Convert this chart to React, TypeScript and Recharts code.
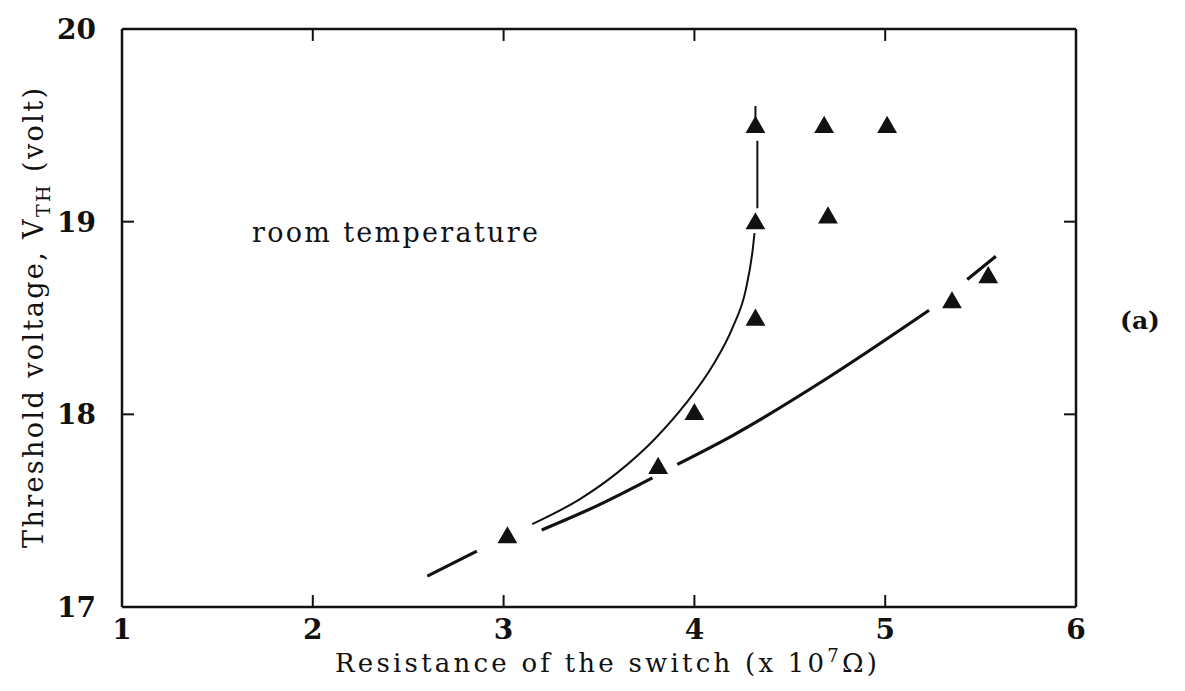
import React from 'react';
import { ComposedChart, XAxis, YAxis, ZAxis, Line, Scatter, ReferenceLine } from 'recharts';

// axis ticks
const xTicks = [1, 2, 3, 4, 5, 6];
const yTicks = [17, 18, 19, 20];

// measured points (triangles), resistance in 1e7 ohm, V_TH in volt
const pointX = [3.02, 3.81, 4.0, 4.32, 4.32, 4.7, 4.32, 4.68, 5.01, 5.35, 5.54];
const pointY = [17.36, 17.72, 18.0, 18.49, 18.99, 19.02, 19.49, 19.49, 19.49, 18.58, 18.71];

// thin curve (bends up to a vertical near 4.33), null = break in the pen
const upperX = [3.15, 3.4, 3.6, 3.8, 3.95, 4.1, 4.2, 4.27, 4.305, 4.315, 4.32, 4.33, 4.33, 4.33, 4.32, 4.32];
const upperY = [17.43, 17.56, 17.7, 17.88, 18.05, 18.26, 18.45, 18.65, 18.85, 18.94, null, 19.07, 19.42, null, 19.53, 19.6];

// thick, nearly straight line, drawn with gaps at the triangles
const lowerX = [2.6, 2.86, 3.0, 3.2, 3.5, 3.78, 3.85, 3.91, 4.2, 4.7, 5.23, 5.35, 5.43, 5.58];
const lowerY = [17.16, 17.29, null, 17.4, 17.53, 17.67, null, 17.74, 17.89, 18.19, 18.54, null, 18.7, 18.82];

const points = pointX.map((x, i) => ({ x, y: pointY[i] }));
const upper = upperX.map((x, i) => ({ x, y: upperY[i] }));
const lower = lowerX.map((x, i) => ({ x, y: lowerY[i] }));

const font = '"DejaVu Serif", "Liberation Serif", serif';
const ink = '#111';
const tickStyle = { fontFamily: font, fontSize: 28, fontWeight: 'bold', fill: ink };

// inward tick marks, in axis units (~12px)
const xMin = 1, xMax = 6, yMin = 17, yMax = 20;
const xTickLen = 0.063;
const yTickLen = 0.062;
const innerX = xTicks.slice(1, -1);
const innerY = yTicks.slice(1, -1);

export default function App() {
  return (
    <div style={{ width: 1177, height: 683, background: '#fff' }}>
      <ComposedChart width={1177} height={683} margin={{ top: 20, right: 108, bottom: 24, left: 54 }}>
        <XAxis
          dataKey="x"
          type="number"
          domain={[xMin, xMax]}
          ticks={xTicks}
          allowDataOverflow
          height={60}
          stroke={ink}
          strokeWidth={2.5}
          tickLine={false}
          tickSize={0}
          tickMargin={12}
          tick={tickStyle}
        />
        <XAxis
          xAxisId="top"
          orientation="top"
          dataKey="x"
          type="number"
          domain={[xMin, xMax]}
          ticks={xTicks}
          height={1}
          stroke={ink}
          strokeWidth={2.5}
          tickLine={false}
          tick={false}
        />
        <YAxis
          dataKey="y"
          type="number"
          domain={[yMin, yMax]}
          ticks={yTicks}
          allowDataOverflow
          width={60}
          stroke={ink}
          strokeWidth={2.5}
          tickLine={false}
          tickSize={0}
          tickMargin={26}
          tick={tickStyle}
        />
        <YAxis
          yAxisId="right"
          orientation="right"
          dataKey="y"
          type="number"
          domain={[yMin, yMax]}
          ticks={yTicks}
          width={1}
          stroke={ink}
          strokeWidth={2.5}
          tickLine={false}
          tick={false}
        />
        <ZAxis range={[170, 170]} />

        {innerX.map((t) => (
          <ReferenceLine key={`b${t}`} segment={[{ x: t, y: yMin }, { x: t, y: yMin + yTickLen }]} stroke={ink} strokeWidth={2} />
        ))}
        {innerX.map((t) => (
          <ReferenceLine key={`t${t}`} segment={[{ x: t, y: yMax }, { x: t, y: yMax - yTickLen }]} stroke={ink} strokeWidth={2} />
        ))}
        {innerY.map((t) => (
          <ReferenceLine key={`l${t}`} segment={[{ x: xMin, y: t }, { x: xMin + xTickLen, y: t }]} stroke={ink} strokeWidth={2} />
        ))}
        {innerY.map((t) => (
          <ReferenceLine key={`r${t}`} segment={[{ x: xMax, y: t }, { x: xMax - xTickLen, y: t }]} stroke={ink} strokeWidth={2} />
        ))}

        <Line
          data={upper}
          dataKey="y"
          type="monotone"
          stroke={ink}
          strokeWidth={2}
          dot={false}
          connectNulls={false}
          isAnimationActive={false}
        />
        <Line
          data={lower}
          dataKey="y"
          type="monotone"
          stroke={ink}
          strokeWidth={3.2}
          dot={false}
          connectNulls={false}
          isAnimationActive={false}
        />
        <Scatter data={points} dataKey="y" shape="triangle" fill={ink} isAnimationActive={false} />

        <text x={244} y={234} fontFamily={font} fontSize={27} fill={ink} textLength={286} lengthAdjust="spacing">
          room temperature
        </text>
        <text x={1132} y={321} fontFamily={font} fontSize={25} fontWeight="bold" fill={ink} textAnchor="middle">
          (a)
        </text>
        <text x={598} y={664} fontFamily={font} fontSize={26} fill={ink} textAnchor="middle" textLength={542} lengthAdjust="spacing">
          Resistance of the switch (x 10<tspan dy={-10} fontSize={18}>7</tspan>
          <tspan dy={10}>Ω)</tspan>
        </text>
        <text
          x={35}
          y={310}
          transform="rotate(-90, 35, 310)"
          fontFamily={font}
          fontSize={27}
          fill={ink}
          textAnchor="middle"
          textLength={460}
          lengthAdjust="spacing"
        >
          Threshold voltage,  V<tspan dy={7} fontSize={19}>TH</tspan>
          <tspan dy={-7}> (volt)</tspan>
        </text>
      </ComposedChart>
    </div>
  );
}
